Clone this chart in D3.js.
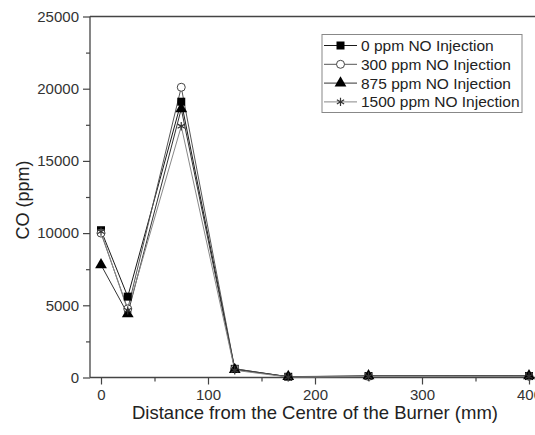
<!DOCTYPE html>
<html><head><meta charset="utf-8">
<script src="https://cdn.jsdelivr.net/npm/d3@7"></script>
<style>body{margin:0;background:#fff}svg{display:block;font-family:"Liberation Sans",Arial,sans-serif}</style>
</head><body><svg id="c" width="535" height="435"></svg>
<script>
const distances = [0, 25, 75, 125, 175, 250, 400];
const seriesNames = ["0 ppm NO Injection", "300 ppm NO Injection", "875 ppm NO Injection", "1500 ppm NO Injection"];
const co0 = [10200, 5600, 19100, 600, 50, 100, 100];
const co300 = [10000, 4750, 20100, 600, 40, 80, 90];
const co875 = [7800, 4400, 18600, 550, 60, 110, 120];
const co1500 = [10100, 4650, 17400, 500, 30, 70, 80];
const xMajorTicks = [0, 100, 200, 300, 400];
const xMinorTicks = [50, 150, 250, 350];
const yMajorTicks = [0, 5000, 10000, 15000, 20000, 25000];
const yMinorTicks = [2500, 7500, 12500, 17500, 22500];

const series = [
  {name: seriesNames[0], values: co0, sym: "square", color: "#1a1a1a"},
  {name: seriesNames[1], values: co300, sym: "circle", color: "#555"},
  {name: seriesNames[2], values: co875, sym: "triangle", color: "#333"},
  {name: seriesNames[3], values: co1500, sym: "asterisk", color: "#888"}
];

const svg = d3.select("#c");
const x = d3.scaleLinear().domain([0, 400]).range([101, 529]);
const y = d3.scaleLinear().domain([0, 25000]).range([377.5, 16.5]);
const axisColor = "#444";
const left = 90, right = 535;
const font = '"Liberation Sans",Arial,sans-serif';

// axes lines
svg.append("line").attr("x1", left).attr("x2", right).attr("y1", y(25000)).attr("y2", y(25000)).attr("stroke", axisColor).attr("stroke-width", 1.3);
svg.append("line").attr("x1", left).attr("x2", left).attr("y1", y(0)).attr("y2", y(25000)).attr("stroke", axisColor).attr("stroke-width", 1.3);
svg.append("line").attr("x1", left).attr("x2", right).attr("y1", y(0)).attr("y2", y(0)).attr("stroke", axisColor).attr("stroke-width", 1.3);

// x ticks
const xAx = svg.append("g").attr("transform", `translate(0,${y(0)})`);
xAx.call(d3.axisBottom(x).tickValues(xMajorTicks).tickSize(7).tickPadding(5).tickFormat(d3.format("d")));
xAx.select(".domain").remove();
const xAxMinor = svg.append("g").attr("transform", `translate(0,${y(0)})`);
xAxMinor.call(d3.axisBottom(x).tickValues(xMinorTicks).tickSize(4).tickFormat(""));
xAxMinor.select(".domain").remove();

// y ticks
const yAx = svg.append("g").attr("transform", `translate(${left},0)`);
yAx.call(d3.axisLeft(y).tickValues(yMajorTicks).tickSize(7).tickPadding(4).tickFormat(d3.format("d")));
yAx.select(".domain").remove();
const yAxMinor = svg.append("g").attr("transform", `translate(${left},0)`);
yAxMinor.call(d3.axisLeft(y).tickValues(yMinorTicks).tickSize(4).tickFormat(""));
yAxMinor.select(".domain").remove();

svg.selectAll(".tick line").attr("stroke", axisColor).attr("stroke-width", 1.2);
svg.selectAll(".tick text").attr("fill", "#333").style("font-size", "15px").style("font-family", font);

// titles
svg.append("text").attr("x", 315).attr("y", 419).attr("text-anchor", "middle").attr("fill", "#222")
  .style("font-size", "18.5px").text("Distance from the Centre of the Burner (mm)");
svg.append("text").attr("transform", "translate(29,200) rotate(-90)").attr("text-anchor", "middle").attr("fill", "#222")
  .style("font-size", "18px").text("CO (ppm)");

// symbol drawing
function drawSym(g, type, cx, cy, color) {
  if (type === "square") {
    g.append("path").attr("d", d3.symbol().type(d3.symbolSquare).size(64)()).attr("transform", `translate(${cx},${cy})`).attr("fill", "#000");
  } else if (type === "circle") {
    g.append("circle").attr("cx", cx).attr("cy", cy).attr("r", 4).attr("fill", "#fff").attr("stroke", "#444").attr("stroke-width", 1);
  } else if (type === "triangle") {
    g.append("path").attr("d", d3.symbol().type(d3.symbolTriangle).size(60)()).attr("transform", `translate(${cx},${cy})`).attr("fill", "#000");
  } else {
    const r = 4.2;
    const p = d3.path();
    for (let k = 0; k < 3; k++) {
      const a = Math.PI / 2 + k * Math.PI / 3;
      p.moveTo(cx + r * Math.cos(a), cy + r * Math.sin(a));
      p.lineTo(cx - r * Math.cos(a), cy - r * Math.sin(a));
    }
    g.append("path").attr("d", p.toString()).attr("stroke", "#333").attr("stroke-width", 1.2).attr("fill", "none");
  }
}

const line = d3.line().x((d, i) => x(distances[i])).y(d => y(d));
series.forEach(s => {
  svg.append("path").datum(s.values).attr("d", line).attr("fill", "none").attr("stroke", s.color).attr("stroke-width", 1);
});
series.forEach(s => {
  const g = svg.append("g");
  s.values.forEach((v, i) => drawSym(g, s.sym, x(distances[i]), y(v), s.color));
});

// legend
const lg = svg.append("g");
lg.append("rect").attr("x", 322).attr("y", 34.5).attr("width", 200).attr("height", 78).attr("fill", "#fff").attr("stroke", "#888").attr("stroke-width", 1);
series.forEach((s, i) => {
  const cy = 45.5 + i * 18.8;
  lg.append("line").attr("x1", 324).attr("x2", 357).attr("y1", cy).attr("y2", cy).attr("stroke", s.color).attr("stroke-width", 1);
  drawSym(lg, s.sym, 340.5, cy, s.color);
  lg.append("text").attr("x", 361).attr("y", cy + 5.5).attr("fill", "#222").style("font-size", "15.5px").text(s.name);
});
</script></body></html>
